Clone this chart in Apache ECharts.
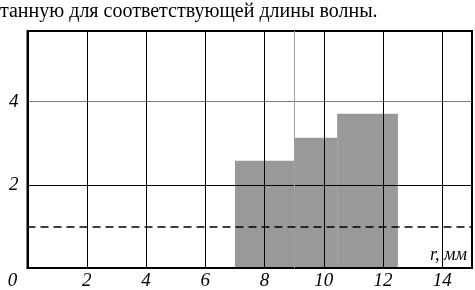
<!DOCTYPE html>
<html><head><meta charset="utf-8">
<script src="https://cdn.jsdelivr.net/npm/echarts@6/dist/echarts.min.js"></script>
<style>html,body{margin:0;padding:0;background:#fff}#c{width:475px;height:290px}</style>
</head><body><div id="c"></div>
<script>
const headerText = 'танную для соответствующей длины волны.';
const xTicks = [0, 2, 4, 6, 8, 10, 12, 14];
const yTicks = [0, 2, 4];
const binStart = [7, 9, 10.45];
const binEnd = [9, 10.45, 12.5];
const binValue = [2.58, 3.13, 3.71];
const thresholdLevel = 1;
const extraLineX = 9;
const axisTitle = 'r, мм';

const bins = binStart.map((s, i) => [s, binEnd[i], binValue[i]]);
const chart = echarts.init(document.getElementById('c'));
const serif = 'Liberation Serif';
chart.setOption({
  animation: false,
  grid: { left: 27.5, right: 3, top: 31, bottom: 22, show: true, borderColor: '#000', borderWidth: 2, z: 4 },
  xAxis: {
    type: 'value', min: 0, max: 15, interval: 2, z: 3,
    axisLine: { show: true, lineStyle: { color: '#000', width: 2 } },
    axisTick: { show: false },
    splitLine: { show: true, lineStyle: { color: '#000', width: 1 } },
    axisLabel: {
      fontFamily: serif, fontStyle: 'italic', fontSize: 19, color: '#000', margin: 3,
      showMaxLabel: false,
      formatter: v => xTicks.indexOf(v) < 0 ? '' : (v === 0 ? '{z|0}' : String(v)),
      rich: { z: { fontFamily: serif, fontStyle: 'italic', fontSize: 19, color: '#000', padding: [0, 30, 0, 0] } }
    }
  },
  yAxis: {
    type: 'value', min: 0, max: 5.7, interval: 2, z: 3,
    axisLine: { show: true, lineStyle: { color: '#000', width: 2 } },
    axisTick: { show: false },
    splitLine: { show: true, lineStyle: { color: ['#000', '#000', '#7a7a7a'], width: 1 } },
    axisLabel: {
      fontFamily: serif, fontStyle: 'italic', fontSize: 19, color: '#000', margin: 9,
      showMaxLabel: false,
      formatter: v => (v === 0 || yTicks.indexOf(v) < 0) ? '' : String(v)
    }
  },
  graphic: [
    { type: 'text', left: 0, top: 2, style: { text: headerText, font: '20px "Liberation Serif"', fill: '#000' } },
    { type: 'text', right: 8, top: 246, z: 10, style: { text: axisTitle, font: 'italic 18px "Liberation Serif"', fill: '#000' } }
  ],
  series: [
    {
      type: 'custom', z: 2,
      renderItem: (params, api) => {
        const p0 = api.coord([api.value(0), api.value(2)]);
        const p1 = api.coord([api.value(1), 0]);
        return { type: 'rect', shape: { x: p0[0], y: p0[1], width: p1[0] - p0[0], height: p1[1] - p0[1] }, style: { fill: '#999999' } };
      },
      encode: { x: [0, 1], y: 2 },
      data: bins
    },
    {
      type: 'line', data: [], z: 1,
      markLine: {
        silent: true, symbol: 'none', label: { show: false },
        lineStyle: { color: '#a0a0a0', width: 1, type: 'solid' },
        data: [{ xAxis: extraLineX }]
      }
    },
    {
      type: 'line', data: [], z: 5,
      markLine: {
        silent: true, symbol: 'none', label: { show: false },
        lineStyle: { color: '#000', width: 1.5, type: [8, 5] },
        data: [{ yAxis: thresholdLevel }]
      }
    }
  ]
});
</script></body></html>
